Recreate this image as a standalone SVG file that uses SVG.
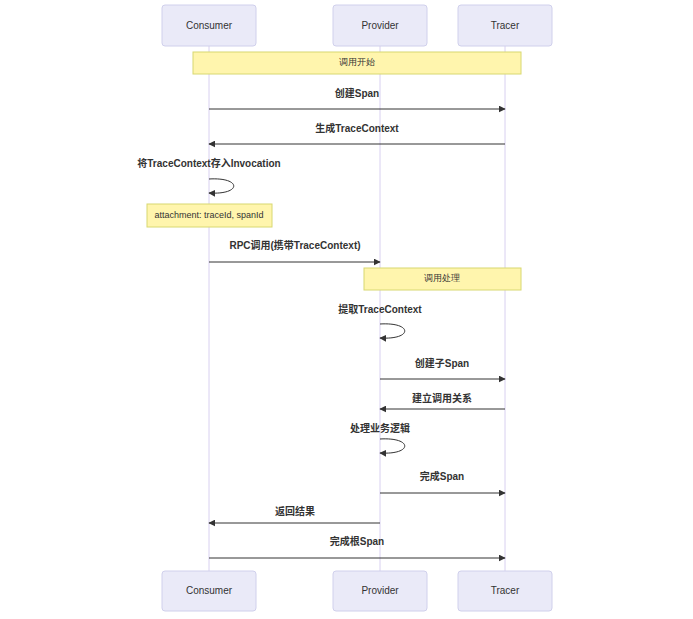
<svg xmlns="http://www.w3.org/2000/svg" width="693" height="619" viewBox="0 0 693 619">
<style>
.actor{fill:#eaeaf8;stroke:#d0d0ec;stroke-width:1}
.at{font-family:"Liberation Sans",Arial,sans-serif;font-size:10px;fill:#333;text-anchor:middle;dominant-baseline:middle}
.life{stroke:#d8d0f0;stroke-width:1}
.note{fill:#fff5ad;stroke:#d8d870;stroke-width:1}
.nt{font-family:"Liberation Sans",Arial,sans-serif;font-size:9px;fill:#333;text-anchor:middle;dominant-baseline:middle}
.msg{stroke:#333;stroke-width:1;fill:none}
.ml{font-family:"Liberation Sans","Noto Sans CJK SC",sans-serif;font-size:10px;font-weight:bold;fill:#333;text-anchor:middle}
</style>
<defs><marker id="ah" viewBox="0 0 10 10" refX="9" refY="5" markerWidth="7" markerHeight="7" orient="auto"><path d="M0,0L10,5L0,10z" fill="#333"/></marker></defs>
<g id="lifelines">
<line class="life" x1="209" y1="46" x2="209" y2="571"/>
<line class="life" x1="380" y1="46" x2="380" y2="571"/>
<line class="life" x1="505" y1="46" x2="505" y2="571"/>
</g>
<g id="Consumer"><rect class="actor" x="162" y="5" width="94" height="41" rx="3"/><text class="at" x="209" y="26">Consumer</text>
<rect class="actor" x="162" y="571" width="94" height="40" rx="3"/><text class="at" x="209" y="591">Consumer</text></g>
<g id="Provider"><rect class="actor" x="333" y="5" width="94" height="41" rx="3"/><text class="at" x="380" y="26">Provider</text>
<rect class="actor" x="333" y="571" width="94" height="40" rx="3"/><text class="at" x="380" y="591">Provider</text></g>
<g id="Tracer"><rect class="actor" x="458" y="5" width="94" height="41" rx="3"/><text class="at" x="505" y="26">Tracer</text>
<rect class="actor" x="458" y="571" width="94" height="40" rx="3"/><text class="at" x="505" y="591">Tracer</text></g>
<g id="note1"><rect class="note" x="193" y="52" width="328" height="22"/><text class="nt" x="357" y="63">调用开始</text></g>
<g id="note2"><rect class="note" x="147" y="204" width="125" height="23"/><text class="nt" x="209" y="216">attachment: traceId, spanId</text></g>
<g id="note3"><rect class="note" x="364" y="268" width="157" height="22"/><text class="nt" x="442" y="279">调用处理</text></g>
<g id="connectors">
<line class="msg" x1="209" y1="109" x2="505" y2="109" marker-end="url(#ah)"/><text class="ml" x="357" y="97">创建Span</text>
<line class="msg" x1="505" y1="144" x2="209" y2="144" marker-end="url(#ah)"/><text class="ml" x="357" y="132">生成TraceContext</text>
<path class="msg" d="M209,179 C242,177 242,195 209,193" marker-end="url(#ah)"/><text class="ml" x="209" y="167">将TraceContext存入Invocation</text>
<line class="msg" x1="209" y1="262" x2="380" y2="262" marker-end="url(#ah)"/><text class="ml" x="295" y="249">RPC调用(携带TraceContext)</text>
<path class="msg" d="M380,324 C413,322 413,340 380,338" marker-end="url(#ah)"/><text class="ml" x="380" y="313">提取TraceContext</text>
<line class="msg" x1="380" y1="379" x2="505" y2="379" marker-end="url(#ah)"/><text class="ml" x="442" y="367">创建子Span</text>
<line class="msg" x1="505" y1="409" x2="380" y2="409" marker-end="url(#ah)"/><text class="ml" x="442" y="402">建立调用关系</text>
<path class="msg" d="M380,439 C413,437 413,455 380,453" marker-end="url(#ah)"/><text class="ml" x="380" y="432">处理业务逻辑</text>
<line class="msg" x1="380" y1="493" x2="505" y2="493" marker-end="url(#ah)"/><text class="ml" x="442" y="480">完成Span</text>
<line class="msg" x1="380" y1="523" x2="209" y2="523" marker-end="url(#ah)"/><text class="ml" x="295" y="515">返回结果</text>
<line class="msg" x1="209" y1="558" x2="505" y2="558" marker-end="url(#ah)"/><text class="ml" x="357" y="545">完成根Span</text>
</g>
</svg>
